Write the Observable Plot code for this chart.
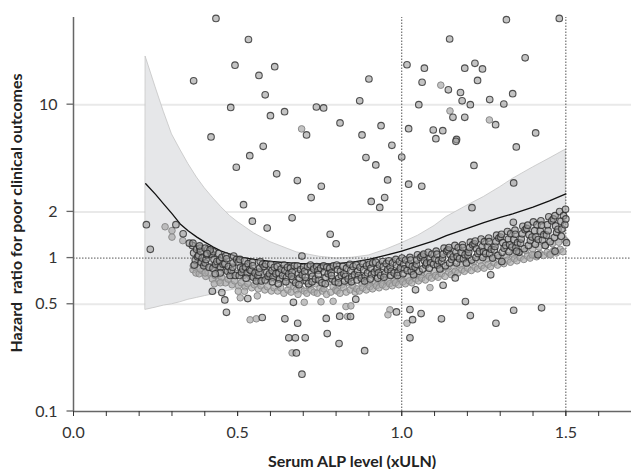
<!DOCTYPE html>
<html><head><meta charset="utf-8">
<script src="https://cdn.jsdelivr.net/npm/d3@7"></script>
<script src="https://cdn.jsdelivr.net/npm/@observablehq/plot@0.6"></script>
<style>body{margin:0;background:#fff}</style>
</head><body><div id="chart"></div>
<script>
// fitted curve and 95% CI
const curveX = [0.22,0.25,0.275,0.30,0.325,0.35,0.376,0.40,0.426,0.45,0.477,0.50,0.55,0.60,0.68,0.75,0.80,0.85,0.90,0.95,1.00,1.05,1.10,1.136,1.20,1.25,1.30,1.338,1.40,1.45,1.50];
const hr   = [3.05,2.6,2.25,1.95,1.67,1.5,1.37,1.27,1.18,1.11,1.06,1.02,0.98,0.95,0.925,0.915,0.92,0.94,0.98,1.04,1.11,1.2,1.3,1.40,1.56,1.70,1.84,1.94,2.15,2.36,2.62];
const hiCI = [20.5,13.0,9.0,6.4,5.1,4.1,3.35,2.85,2.45,2.15,1.88,1.72,1.45,1.27,1.09,1.02,0.995,1.005,1.04,1.13,1.25,1.40,1.62,1.85,2.2,2.5,2.9,3.28,3.9,4.45,5.1];
const loCI = [0.46,0.475,0.49,0.50,0.515,0.535,0.55,0.565,0.58,0.60,0.615,0.63,0.68,0.73,0.80,0.84,0.86,0.88,0.92,0.96,1.0,1.03,1.05,1.065,1.09,1.11,1.14,1.17,1.21,1.24,1.27];

// dense cloud, dark-outlined patients [x, y]
const cloudDark = [
[0.362,1.21],[0.366,1.08],[0.371,0.97],[0.375,1.14],[0.368,0.90],[0.378,1.02],
[0.381,1.04],[0.385,1.16],[0.389,0.94],[0.392,1.00],[0.387,1.11],[0.397,0.89],
[0.401,0.93],[0.404,0.98],[0.409,1.14],[0.413,0.87],[0.406,1.05],[0.417,1.10],
[0.421,1.06],[0.425,0.86],[0.428,0.98],[0.433,0.91],[0.426,1.10],[0.437,0.95],
[0.442,1.07],[0.445,0.96],[0.448,0.87],[0.452,1.01],[0.447,0.80],[0.456,0.91],
[0.461,0.92],[0.464,1.03],[0.469,0.82],[0.472,0.88],[0.466,0.99],[0.477,0.77],
[0.481,0.83],[0.485,0.87],[0.488,1.03],[0.493,0.77],[0.486,0.93],[0.497,0.98],
[0.502,0.94],[0.505,0.77],[0.509,0.87],[0.512,0.81],[0.507,0.98],[0.516,0.85],
[0.521,0.96],[0.524,0.87],[0.529,0.80],[0.532,0.92],[0.526,0.74],[0.537,0.84],
[0.541,0.83],[0.545,0.94],[0.548,0.75],[0.553,0.80],[0.546,0.89],[0.557,0.71],
[0.562,0.77],[0.565,0.81],[0.569,0.95],[0.572,0.71],[0.567,0.86],[0.576,0.91],
[0.581,0.88],[0.584,0.72],[0.589,0.81],[0.593,0.76],[0.586,0.91],[0.597,0.79],
[0.601,0.91],[0.605,0.83],[0.608,0.75],[0.612,0.87],[0.606,0.70],[0.617,0.79],
[0.621,0.88],[0.626,0.80],[0.628,0.73],[0.633,0.85],[0.624,0.68],[0.637,0.77],
[0.642,0.90],[0.644,0.83],[0.649,0.75],[0.652,0.87],[0.647,0.70],[0.656,0.79],
[0.661,0.86],[0.666,0.81],[0.668,0.72],[0.673,0.89],[0.664,0.76],[0.677,0.69],
[0.682,0.89],[0.685,0.79],[0.688,0.74],[0.692,0.84],[0.687,0.67],[0.697,0.78],
[0.701,0.87],[0.704,0.82],[0.709,0.71],[0.713,0.88],[0.706,0.75],[0.716,0.68],
[0.722,0.90],[0.725,0.80],[0.728,0.76],[0.732,0.85],[0.727,0.70],[0.737,0.73],
[0.741,0.88],[0.745,0.83],[0.748,0.72],[0.753,0.86],[0.746,0.78],[0.757,0.69],
[0.762,0.89],[0.764,0.81],[0.769,0.75],[0.772,0.87],[0.767,0.68],[0.776,0.79],
[0.781,0.86],[0.785,0.80],[0.788,0.73],[0.792,0.89],[0.786,0.77],[0.797,0.70],
[0.802,0.90],[0.805,0.84],[0.808,0.74],[0.813,0.82],[0.807,0.69],[0.816,0.77],
[0.821,0.88],[0.824,0.79],[0.829,0.76],[0.832,0.86],[0.826,0.71],[0.837,0.73],
[0.842,0.91],[0.845,0.83],[0.848,0.75],[0.852,0.88],[0.847,0.70],[0.856,0.78],
[0.861,0.90],[0.866,0.82],[0.868,0.77],[0.873,0.87],[0.864,0.72],[0.877,0.74],
[0.882,0.92],[0.884,0.84],[0.889,0.76],[0.893,0.89],[0.887,0.71],[0.896,0.80],
[0.901,0.91],[0.906,0.86],[0.908,0.78],[0.912,0.93],[0.904,0.73],[0.917,0.81],
[0.921,0.94],[0.925,0.85],[0.929,0.80],[0.932,0.90],[0.927,0.74],[0.936,0.77],
[0.942,0.95],[0.944,0.88],[0.949,0.79],[0.953,0.92],[0.946,0.75],[0.957,0.84],
[0.961,0.96],[0.965,0.87],[0.968,0.82],[0.972,0.93],[0.966,0.77],[0.977,0.80],
[0.982,0.98],[0.984,0.90],[0.989,0.81],[0.993,0.95],[0.987,0.77],[0.996,0.86],
[1.001,1.00],[1.006,0.91],[1.008,0.85],[1.012,0.97],[1.004,0.79],[1.017,0.83],
[1.022,0.91],[1.025,1.01],[1.029,0.82],[1.032,0.88],[1.027,0.97],[1.036,0.78],
[1.041,0.87],[1.045,0.91],[1.048,1.05],[1.053,0.82],[1.046,0.97],[1.057,1.01],
[1.062,1.03],[1.064,0.85],[1.069,0.96],[1.073,0.90],[1.067,1.06],[1.076,0.93],
[1.081,1.09],[1.086,0.99],[1.088,0.93],[1.092,1.06],[1.084,0.86],[1.097,0.91],
[1.101,0.99],[1.105,1.11],[1.109,0.90],[1.112,0.96],[1.107,1.06],[1.116,0.85],
[1.122,0.95],[1.124,1.00],[1.129,1.16],[1.133,0.89],[1.126,1.06],[1.137,1.11],
[1.141,1.13],[1.146,0.93],[1.148,1.05],[1.152,0.98],[1.144,1.17],[1.157,1.02],
[1.162,1.21],[1.165,1.09],[1.169,1.02],[1.172,1.17],[1.167,0.93],[1.176,0.99],
[1.181,1.09],[1.185,1.22],[1.188,0.99],[1.193,1.05],[1.186,1.17],[1.197,0.93],
[1.202,1.04],[1.204,1.09],[1.209,1.27],[1.213,0.97],[1.207,1.17],[1.216,1.22],
[1.221,1.24],[1.226,1.01],[1.228,1.15],[1.232,1.07],[1.224,1.29],[1.237,1.11],
[1.242,1.33],[1.245,1.19],[1.249,1.10],[1.252,1.28],[1.247,1.01],[1.256,1.07],
[1.261,1.19],[1.265,1.35],[1.268,1.07],[1.273,1.14],[1.266,1.28],[1.277,1.00],
[1.282,1.13],[1.284,1.19],[1.289,1.41],[1.293,1.04],[1.287,1.28],[1.296,1.35],
[1.301,1.37],[1.306,1.09],[1.308,1.26],[1.312,1.16],[1.304,1.43],[1.317,1.21],
[1.322,1.49],[1.325,1.33],[1.329,1.22],[1.332,1.44],[1.327,1.10],[1.336,1.18],
[1.341,1.32],[1.345,1.52],[1.348,1.17],[1.353,1.26],[1.346,1.43],[1.357,1.09],
[1.362,1.25],[1.364,1.33],[1.369,1.61],[1.373,1.15],[1.367,1.44],[1.376,1.53],
[1.381,1.56],[1.386,1.21],[1.388,1.42],[1.392,1.30],[1.384,1.64],[1.397,1.37],
[1.401,1.72],[1.405,1.51],[1.409,1.37],[1.412,1.65],[1.407,1.23],[1.416,1.32],
[1.422,1.50],[1.424,1.75],[1.429,1.31],[1.433,1.42],[1.426,1.64],[1.437,1.21],
[1.441,1.41],[1.446,1.51],[1.448,1.86],[1.452,1.28],[1.444,1.65],[1.457,1.75],
[1.462,1.80],[1.465,1.36],[1.469,1.62],[1.472,1.47],[1.467,1.89],[1.476,1.54],
[1.481,2.01],[1.485,1.74],[1.488,1.55],[1.493,1.89],[1.486,1.39],[1.497,1.65],[1.499,2.08],[1.500,1.80]
];
// dense cloud, light-outlined patients [x, y]
const cloudLight = [
[0.364,0.84],[0.373,0.80],[0.377,0.93],[0.383,0.79],[0.391,0.83],[0.396,0.91],[0.403,0.76],[0.411,0.80],[0.418,0.88],
[0.423,0.73],[0.431,0.77],[0.438,0.86],[0.443,0.71],[0.451,0.75],[0.458,0.84],[0.463,0.69],[0.471,0.73],[0.478,0.81],
[0.483,0.67],[0.491,0.71],[0.498,0.79],[0.503,0.66],[0.511,0.69],[0.518,0.77],[0.523,0.65],[0.531,0.68],[0.538,0.76],
[0.543,0.64],[0.551,0.67],[0.558,0.75],[0.563,0.63],[0.571,0.66],[0.578,0.74],[0.583,0.62],[0.591,0.65],[0.598,0.73],
[0.603,0.61],[0.611,0.64],[0.618,0.72],[0.622,0.61],[0.631,0.64],[0.639,0.70],[0.641,0.59],[0.653,0.62],[0.658,0.67],
[0.663,0.60],[0.671,0.65],[0.679,0.62],[0.684,0.58],[0.693,0.63],[0.698,0.71],[0.703,0.61],[0.711,0.59],[0.718,0.66],
[0.724,0.62],[0.733,0.60],[0.738,0.68],[0.743,0.59],[0.751,0.64],[0.758,0.61],[0.763,0.63],[0.771,0.58],[0.778,0.70],
[0.784,0.60],[0.791,0.65],[0.799,0.62],[0.803,0.61],[0.812,0.59],[0.818,0.67],[0.823,0.64],[0.831,0.60],[0.838,0.69],
[0.843,0.62],[0.851,0.66],[0.858,0.60],[0.863,0.63],[0.871,0.61],[0.879,0.68],[0.881,0.64],[0.892,0.62],[0.898,0.69],
[0.903,0.65],[0.911,0.63],[0.919,0.70],[0.923,0.66],[0.931,0.64],[0.938,0.71],[0.941,0.67],[0.952,0.65],[0.958,0.72],
[0.963,0.68],[0.971,0.66],[0.979,0.73],[0.981,0.69],[0.991,0.67],[0.998,0.74],[1.003,0.70],[1.011,0.68],[1.019,0.75],
[1.023,0.71],[1.031,0.69],[1.038,0.77],[1.043,0.73],[1.051,0.71],[1.058,0.78],[1.061,0.74],[1.072,0.72],[1.078,0.80],
[1.083,0.76],[1.091,0.74],[1.099,0.82],[1.103,0.77],[1.111,0.75],[1.118,0.84],[1.121,0.79],[1.132,0.76],[1.138,0.86],
[1.143,0.81],[1.151,0.78],[1.159,0.88],[1.163,0.82],[1.171,0.80],[1.178,0.90],[1.183,0.84],[1.191,0.82],[1.198,0.92],
[1.201,0.86],[1.212,0.83],[1.218,0.94],[1.223,0.87],[1.231,0.85],[1.239,0.96],[1.243,0.89],[1.251,0.86],[1.258,0.98],
[1.263,0.91],[1.271,0.88],[1.278,1.00],[1.281,0.93],[1.292,0.90],[1.298,1.02],[1.303,0.95],[1.311,0.92],[1.319,1.04],
[1.323,0.97],[1.331,0.94],[1.338,1.06],[1.343,0.99],[1.351,0.96],[1.358,1.09],[1.361,1.01],[1.372,0.98],[1.378,1.12],
[1.383,1.03],[1.391,1.00],[1.399,1.15],[1.403,1.05],[1.411,1.02],[1.418,1.18],[1.421,1.07],[1.432,1.04],[1.438,1.21],
[1.443,1.09],[1.451,1.06],[1.459,1.24],[1.463,1.12],[1.471,1.08],[1.478,1.27],[1.483,1.14],[1.491,1.10],[1.498,1.30]
];
// scattered patients
const darkScatter = [
[0.434,36.5],[0.533,26.6],[0.492,18.1],[0.613,17.7],[0.565,15.5],[0.366,14.3],[0.900,14.7],[0.584,11.6],[0.872,10.6],
[0.479,9.6],[0.740,9.66],[0.762,9.52],[0.643,9.0],[0.600,8.48],[0.812,7.60],[0.937,7.30],[0.710,6.35],[0.879,6.35],
[0.419,6.16],[0.578,5.35],[0.537,4.65],[0.891,4.52],[0.921,4.05],[0.496,3.91],[0.619,3.54],[0.957,3.23],[0.682,3.20],
[0.755,2.94],[0.724,2.48],[0.948,2.48],[0.907,2.34],[0.933,2.14],[0.518,2.23],[0.970,5.43],
[1.319,35.8],[1.480,36.5],[1.146,26.8],[1.376,20.2],[1.016,18.2],[1.069,17.3],[1.192,17.3],[1.223,18.6],[1.246,17.1],
[1.062,14.0],[1.142,12.5],[1.179,12.0],[1.231,14.4],[1.338,11.8],[1.184,10.6],[1.052,10.0],[1.209,10.0],[1.268,10.8],
[1.311,10.1],[1.156,8.27],[1.192,8.27],[1.286,7.41],[1.021,6.98],[1.096,6.84],[1.125,6.77],[1.104,6.0],[1.167,5.94],
[1.165,5.77],[1.408,6.54],[1.349,5.30],[1.0,4.56],[1.220,4.02],[1.021,3.03],[1.061,2.94],[1.341,3.09],[1.214,2.13],
[0.222,1.65],[0.234,1.14],[0.545,1.74],[0.590,1.57],[0.666,1.83],[0.782,1.43],[0.800,1.24],[0.696,1.03],
[0.423,0.608],[0.452,0.596],[0.461,0.534],[0.466,0.443],[0.531,0.545],[0.575,0.410],[0.644,0.402],[0.683,0.376],
[0.656,0.302],[0.676,0.302],[0.706,0.302],[0.679,0.241],[0.696,0.175],[0.770,0.404],[0.773,0.322],[0.809,0.277],
[0.811,0.418],[0.844,0.416],[0.887,0.249],[0.670,0.515],[0.860,0.539],
[1.340,1.71],[1.350,1.11],[1.415,1.05],[1.467,1.11],[1.502,1.26],[1.305,0.949],[1.271,0.778],[1.163,0.743],
[1.126,0.665],[1.042,0.621],[1.194,0.521],[1.025,0.462],[0.984,0.446],[1.059,0.435],[1.033,0.397],[1.121,0.402],
[1.209,0.422],[1.287,0.376],[1.341,0.457],[1.426,0.474],[1.025,0.302],
[0.312,1.65],[0.334,1.44],[0.353,1.25],[0.364,1.25],[0.384,1.20],[0.401,1.16],[0.416,1.13],[0.432,0.79],[0.407,1.07]
];
const lightScatter = [
[0.695,6.95],[1.119,13.4],[1.147,9.1],[1.267,7.95],[0.560,0.567],[0.508,0.551],[0.502,0.608],[0.521,0.608],
[0.538,0.396],[0.557,0.402],[0.666,0.241],[0.835,0.416],[0.703,0.515],[0.754,0.519],[0.791,0.523],[0.830,0.483],
[0.845,0.488],[1.397,1.05],[1.453,1.05],[1.086,0.642],[0.964,0.460],[0.958,0.427],[1.016,0.376],
[0.279,1.60],[0.300,1.51],[0.300,1.37],[0.333,1.30],[0.365,0.89],[0.386,0.85],[0.401,0.80],[0.429,0.68],[0.447,0.69]
];
const yTicks = [0.1,0.5,1,2,10];
const yTickLabels = ["0.1","0.5","1","2","10"];
const xMinorTicks = [0,0.1,0.2,0.3,0.4,0.5,0.6,0.7,0.8,0.9,1.0,1.1,1.2,1.3,1.4,1.5,1.6];
const xLabelTicks = [0,0.5,1.0,1.5];
const xTickLabels = ["0.0","0.5","1.0","1.5"];
const gridY = [10,2,0.5];

const band = curveX.map((x,i)=>({x, hr: hr[i], lo: loCI[i], hi: hiCI[i]}));
const darkPts = cloudDark.concat(darkScatter).map(([x,y])=>({x,y}));
const lightPts = cloudLight.concat(lightScatter).map(([x,y])=>({x,y}));
const yLab = yTicks.map((v,i)=>({v, t: yTickLabels[i]}));

const chart = Plot.plot({
  width: 631, height: 469,
  marginLeft: 73, marginRight: 0, marginTop: 17, marginBottom: 58,
  style: {fontFamily: "Lato, 'Open Sans', sans-serif", fontSize: "16px", color: "#333", background: "#fff"},
  x: {domain: [0, 1.7]},
  y: {type: "log", domain: [0.1, 37], axis: null},
  marks: [
    Plot.ruleY(gridY, {stroke: "#e9e9e9", strokeWidth: 2}),
    Plot.areaY(band, {x: "x", y1: "lo", y2: "hi", fill: "#e6e7e9", stroke: "#c4c4c4", strokeWidth: 0.8}),
    Plot.ruleY([1], {stroke: "#555", strokeWidth: 1, strokeDasharray: "1.5,1.5"}),
    Plot.ruleX([1, 1.5], {y1: 0.1, y2: 37, stroke: "#555", strokeWidth: 1, strokeDasharray: "1.5,1.5"}),
    Plot.line(band, {x: "x", y: "hr", stroke: "#111", strokeWidth: 1.3}),
    Plot.dot(lightPts, {x: "x", y: "y", r: 3.3, fill: "#aaaaaa", fillOpacity: 0.7, stroke: "#8c8c8c", strokeWidth: 1}),
    Plot.dot(darkPts, {x: "x", y: "y", r: 3.3, fill: "#9c9c9c", fillOpacity: 0.6, stroke: "#2b2b2b", strokeOpacity: 0.8, strokeWidth: 1.1}),
    Plot.ruleX([0], {y1: 0.1, y2: 37, stroke: "#666", strokeWidth: 1.5}),
    Plot.ruleY([0.1], {stroke: "#666", strokeWidth: 1.5}),
    Plot.text(yLab, {x: 0, y: "v", text: "t", textAnchor: "end", dx: -16, fontSize: 16, fill: "#333"}),
    Plot.axisX({ticks: xMinorTicks, tickFormat: () => "", tickSize: 5, label: null}),
    Plot.axisX({ticks: xLabelTicks, tickFormat: (d) => xTickLabels[xLabelTicks.indexOf(d)], tickSize: 5, tickPadding: 10, label: null})
  ]
});
document.getElementById("chart").appendChild(chart);
const svg = d3.select(chart.tagName.toLowerCase() === "svg" ? chart : chart.querySelector("svg"));
// y tick marks (short, outside the axis)
const ys = chart.scale("y");
svg.append("g").selectAll("line").data(yTicks).join("line")
  .attr("x1", 66.5).attr("x2", 73).attr("y1", d => ys.apply(d)).attr("y2", d => ys.apply(d))
  .attr("stroke", "#666").attr("stroke-width", 1.3);
svg.append("text").attr("x", 352).attr("y", 467).attr("text-anchor", "middle")
  .attr("font-weight", "bold").attr("font-size", 16).attr("fill", "#222")
  .text("Serum ALP level (xULN)");
svg.append("text").attr("transform", "translate(22,213) rotate(-90)").attr("text-anchor", "middle")
  .attr("font-weight", "bold").attr("font-size", 16).attr("fill", "#222").style("white-space", "pre")
  .text("Hazard  ratio for poor clinical outcomes");
</script></body></html>
